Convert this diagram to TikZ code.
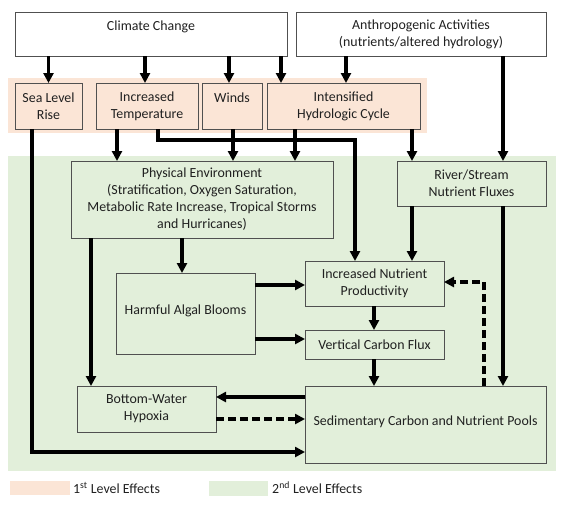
\documentclass[tikz,border=0pt]{standalone}
\usepackage{fontspec}
\setmainfont{Carlito}
\usetikzlibrary{calc,arrows.meta}
\definecolor{pinkfill}{HTML}{FBE5D6}
\definecolor{greenfill}{HTML}{E2EFDA}
\definecolor{boxline}{HTML}{505050}
\definecolor{txt}{HTML}{202020}
\tikzset{
  box/.style={draw=boxline, line width=0.9pt, outer sep=0pt, anchor=north west, align=center, inner sep=0pt,
    text=txt, font=\fontsize{13.9}{17}\selectfont},
  pinkbox/.style={box, fill=pinkfill},
  greenbox/.style={box, fill=greenfill},
  whitebox/.style={box, fill=white},
  arr/.style={line width=3.1pt, -{Triangle[length=10pt,width=10pt]}},
  dasharr/.style={arr, dash pattern=on 8pt off 4pt},
  lbl/.style={anchor=west, inner sep=0pt, text=txt, font=\fontsize{13.9}{17}\selectfont}
}
\begin{document}
\begin{tikzpicture}[x=1pt,y=-1pt]
\useasboundingbox (0,0) rectangle (575,507);
% bands
\fill[pinkfill] (8,78) rectangle (427,133);
\fill[greenfill] (8,156) rectangle (556,471);
% top boxes
\node[whitebox, minimum width=272pt, minimum height=44pt] (cc) at (15,12) {Climate Change\\\mbox{}};
\node[whitebox, minimum width=250pt, minimum height=44pt] (an) at (296,12) {Anthropogenic Activities\\(nutrients/altered hydrology)};
% first level
\node[pinkbox, minimum width=67pt, minimum height=46pt] (slr) at (15,83) {Sea Level\\Rise};
\node[pinkbox, minimum width=102pt, minimum height=46pt] (temp) at (96,83) {Increased\\Temperature};
\node[pinkbox, minimum width=60pt, minimum height=46pt] (winds) at (202,83) {Winds\\\mbox{}};
\node[pinkbox, minimum width=153pt, minimum height=46pt] (hydro) at (267,83) {Intensified\\Hydrologic Cycle};
% second level
\node[greenbox, minimum width=262pt, minimum height=77pt] (phys) at (71,161) {Physical Environment\\ (Stratification, Oxygen Saturation,\\Metabolic Rate Increase, Tropical Storms\\and Hurricanes)};
\node[greenbox, minimum width=149pt, minimum height=45pt] (river) at (397,161) {River/Stream\\Nutrient Fluxes};
\node[greenbox, minimum width=139pt, minimum height=81pt] (hab) at (116,273) {\raisebox{8pt}{Harmful Algal Blooms}};
\node[greenbox, minimum width=139pt, minimum height=45pt] (nut) at (305,261) {Increased Nutrient\\Productivity};
\node[greenbox, minimum width=139pt, minimum height=29pt] (vcf) at (305,330) {Vertical Carbon Flux};
\node[greenbox, minimum width=241pt, minimum height=77pt] (sed) at (305,386) {\raisebox{7pt}{Sedimentary Carbon and Nutrient Pools}};
\node[greenbox, minimum width=139pt, minimum height=46pt] (hyp) at (77,386) {Bottom-Water\\Hypoxia};
% connectors
\draw[arr] (cc.south -| slr.north) -- (slr.north);
\draw[arr] ($(cc.south west)+(130,0)$) -- ($(temp.north west)+(49,0)$);
\draw[arr] ($(cc.south west)+(214,0)$) -- ($(winds.north west)+(27,0)$);
\draw[arr] ($(cc.south east)+(-6,0)$) -- ($(hydro.north west)+(14,0)$);
\draw[arr] ($(an.south west)+(50,0)$) -- ($(hydro.north west)+(79,0)$);
\draw[arr] ($(an.south west)+(207,0)$) -- ($(river.north west)+(106,0)$);
\draw[arr] ($(slr.south west)+(17,0)$) |- ($(sed.south west)+(0,-11)$);
\draw[arr] ($(temp.south west)+(21,0)$) -- ($(phys.north west)+(46,0)$);
\draw[arr] ($(temp.south west)+(62,0)$) -- ++(0,11) -| ($(nut.north west)+(50,0)$);
\draw[arr] ($(winds.south west)+(31,0)$) -- ($(phys.north west)+(162,0)$);
\draw[arr] ($(hydro.south west)+(28,0)$) -- ($(phys.north west)+(224,0)$);
\draw[arr] ($(hydro.south west)+(145,0)$) -- ($(river.north west)+(15,0)$);
\draw[arr] ($(river.south west)+(15,0)$) -- ($(nut.north west)+(107,0)$);
\draw[arr] ($(river.south west)+(106,0)$) -- ($(sed.north west)+(198,0)$);
\draw[arr] ($(phys.south west)+(111,0)$) -- ($(hab.north west)+(66,0)$);
\draw[arr] ($(phys.south west)+(20,0)$) -- ($(hyp.north west)+(14,0)$);
\draw[arr] ($(hab.north east)+(0,12)$) -- ($(nut.north west)+(0,24)$);
\draw[arr] ($(hab.north east)+(0,66)$) -- ($(vcf.north west)+(0,9)$);
\draw[arr] ($(nut.south west)+(69,0)$) -- ($(vcf.north west)+(69,0)$);
\draw[arr] ($(vcf.south west)+(69,0)$) -- ($(sed.north west)+(69,0)$);
\draw[arr] ($(sed.north west)+(0,11)$) -- ($(hyp.north east)+(0,11)$);
\draw[dasharr] ($(hyp.north east)+(0,33)$) -- ($(sed.north west)+(0,33)$);
\draw[dasharr] ($(sed.north west)+(179,0)$) |- ($(nut.north east)+(0,21)$);
% legend
\fill[pinkfill] (10,481) rectangle (70,495);
\node[lbl] (l1) at (73,488) {1\textsuperscript{st} Level Effects};
\fill[greenfill] (209,481) rectangle (268,496);
\node[lbl] (l2) at (272,488) {2\textsuperscript{nd} Level Effects};
\end{tikzpicture}
\end{document}
